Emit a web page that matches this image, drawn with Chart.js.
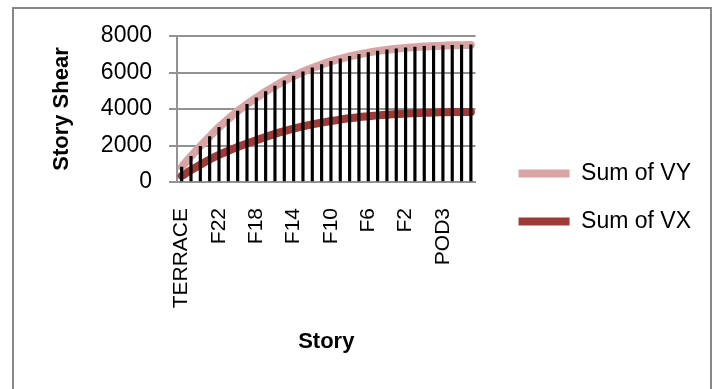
<!DOCTYPE html>
<html>
<head>
<meta charset="utf-8">
<script src="https://cdn.jsdelivr.net/npm/chart.js@4/dist/chart.umd.min.js"></script>
<style>
  html, body { margin: 0; padding: 0; background: #ffffff; }
  #wrap { position: relative; width: 715px; height: 389px; overflow: hidden; }
  #frame { position: absolute; left: 12px; top: 7px; width: 700px; height: 420px;
           border: 2px solid #878787; box-sizing: border-box; pointer-events: none; }
  canvas { position: absolute; left: 0; top: 0; }
</style>
</head>
<body>
<div id="wrap">
  <div id="frame"></div>
  <canvas id="chart" width="715" height="389"></canvas>
</div>
<script>
// Stories from the roof down to the podium levels
const stories = [
  'TERRACE', 'F25', 'F24', 'F23', 'F22', 'F21', 'F20', 'F19', 'F18', 'F17',
  'F16', 'F15', 'F14', 'F13', 'F12', 'F11', 'F10', 'F9', 'F8', 'F7',
  'F6', 'F5', 'F4', 'F3', 'F2', 'F1', 'POD5', 'POD4', 'POD3', 'POD2',
  'POD1', 'BASEMENT'
];

// Story labels printed along the category axis
const shownStories = ['TERRACE', 'F22', 'F18', 'F14', 'F10', 'F6', 'F2', 'POD3'];

// Cumulative story shear, Y direction
const sumVY = [
  820, 1410, 1960, 2490, 3000, 3450, 3880, 4260, 4610, 4950,
  5250, 5540, 5800, 6040, 6250, 6440, 6610, 6750, 6880, 6990,
  7090, 7170, 7240, 7300, 7350, 7390, 7430, 7450, 7470, 7490,
  7500, 7510
];

// Cumulative story shear, X direction
const sumVX = [
  330, 650, 950, 1230, 1480, 1710, 1920, 2110, 2290, 2470,
  2640, 2790, 2930, 3050, 3160, 3250, 3340, 3420, 3490, 3550,
  3600, 3650, 3690, 3720, 3750, 3770, 3790, 3810, 3820, 3830,
  3835, 3840
];

// Y axis range
const yTicks = [0, 2000, 4000, 6000, 8000];

// Drop lines run from the higher of the two series down to the axis
const dropTops = sumVY.map((v, i) => Math.max(v, sumVX[i]));

const FONT = "'Liberation Sans', Arial, sans-serif";
const GRID = '#929292';

new Chart(document.getElementById('chart'), {
  type: 'line',
  data: {
    labels: stories,
    datasets: [
      {
        type: 'bar',
        label: 'drop',
        data: dropTops,
        backgroundColor: '#000000',
        borderWidth: 0,
        barThickness: 2.5,
        order: 0
      },
      {
        label: 'Sum of VY',
        data: sumVY,
        borderColor: '#d9a4a4',
        backgroundColor: '#d9a4a4',
        borderWidth: 8,
        borderCapStyle: 'round',
        borderJoinStyle: 'round',
        pointRadius: 0,
        pointStyle: 'line',
        cubicInterpolationMode: 'monotone',
        fill: false,
        order: 1
      },
      {
        label: 'Sum of VX',
        data: sumVX,
        borderColor: '#a03a36',
        backgroundColor: '#a03a36',
        borderWidth: 8,
        borderCapStyle: 'round',
        borderJoinStyle: 'round',
        pointRadius: 0,
        pointStyle: 'line',
        cubicInterpolationMode: 'monotone',
        fill: false,
        order: 2
      }
    ]
  },
  options: {
    responsive: false,
    animation: false,
    devicePixelRatio: 1,
    layout: { padding: { left: 45, top: 36, right: 14, bottom: 30 } },
    plugins: {
      tooltip: { enabled: false },
      legend: {
        position: 'right',
        align: 'center',
        maxWidth: 260,
        labels: {
          usePointStyle: true,
          pointStyleWidth: 51,
          padding: 25,
          color: '#000000',
          font: { family: FONT, size: 23 },
          filter: (item) => item.text !== 'drop'
        }
      }
    },
    scales: {
      x: {
        type: 'category',
        offset: true,
        grid: { display: false, drawTicks: false },
        border: { display: true, color: GRID, width: 2 },
        ticks: {
          autoSkip: false,
          minRotation: 90,
          maxRotation: 90,
          padding: 26,
          color: '#000000',
          font: { family: FONT, size: 21 },
          callback: function (value) {
            const name = this.getLabelForValue(value);
            return shownStories.includes(name) ? name : '';
          }
        },
        title: {
          display: true,
          text: 'Story',
          color: '#000000',
          font: { family: FONT, size: 22, weight: 'bold' }
        },
        afterFit: (s) => { s.height = 177; }
      },
      y: {
        min: yTicks[0],
        max: yTicks[yTicks.length - 1],
        afterBuildTicks: (s) => { s.ticks = yTicks.map(v => ({ value: v })); },
        grid: { color: GRID, lineWidth: 2, tickLength: 8, tickColor: GRID },
        border: { display: true, color: GRID, width: 2 },
        ticks: {
          padding: 17,
          color: '#000000',
          font: { family: FONT, size: 23 },
          callback: (v) => String(v)
        },
        title: {
          display: true,
          text: 'Story Shear',
          color: '#000000',
          font: { family: FONT, size: 22, weight: 'bold' }
        },
        afterFit: (s) => { s.width = 132; }
      },
      gap: {
        type: 'linear',
        position: 'right',
        display: true,
        grid: { display: false, drawTicks: false },
        border: { display: false },
        ticks: { display: false },
        afterFit: (s) => { s.width = 18; }
      }
    }
  }
});
</script>
</body>
</html>
